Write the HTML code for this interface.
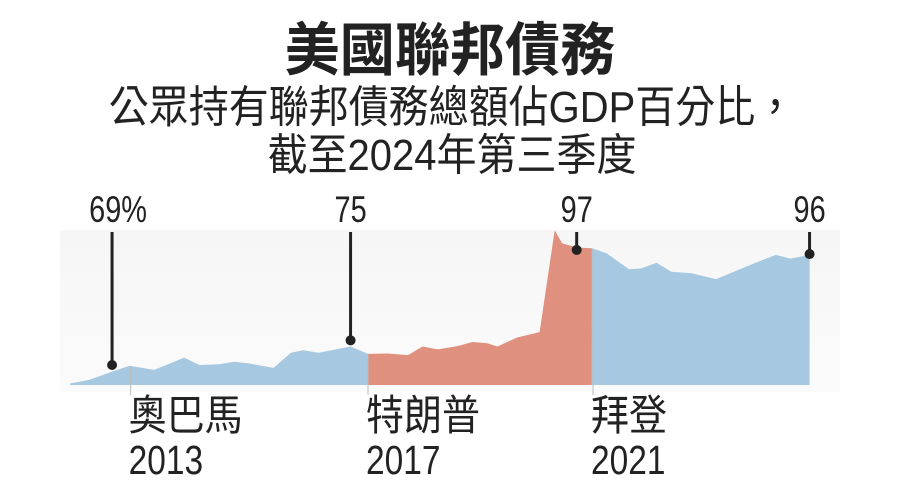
<!DOCTYPE html>
<html><head><meta charset="utf-8">
<style>
html,body{margin:0;padding:0;background:#fff;}
body{width:907px;height:496px;overflow:hidden;position:relative;}
svg{position:absolute;left:0;top:0;}
.cjk{font-family:"Liberation Sans","Noto Sans CJK TC",sans-serif;}
.num{font-family:"Liberation Sans Narrow","Liberation Sans","Noto Sans CJK TC",sans-serif;}
</style></head>
<body>
<svg id="chart" width="907" height="496" viewBox="0 0 907 496">
  <defs>
    <linearGradient id="bg" x1="0" y1="0" x2="0" y2="1">
      <stop offset="0" stop-color="#f6f6f6"/><stop offset="1" stop-color="#fbfbfb"/>
    </linearGradient>
  </defs>
  <rect x="60" y="230" width="780" height="162" fill="url(#bg)"/>
  <text transform="translate(450,70) scale(1.06,1.1)" text-anchor="middle" class="cjk" font-size="52" font-weight="bold" fill="#222">美國聯邦債務</text>
  <text transform="translate(452,122) scale(1,1.1)" text-anchor="middle" class="cjk" font-size="40" fill="#222">公眾持有聯邦債務總額佔GDP百分比，</text>
  <text transform="translate(452,170) scale(1,1.1)" text-anchor="middle" class="cjk" font-size="40" fill="#222">截至2024年第三季度</text>
  <g id="areas"></g>
  <g id="marks"></g>
</svg>
<script>
const years = [2011.70,2012.05,2012.45,2012.76,2013.20,2013.73,2014.00,2014.35,2014.62,2014.88,2015.32,2015.63,2015.85,2016.12,2016.69,2017.00,2017.36,2017.71,2017.97,2018.24,2018.59,2018.86,2019.12,2019.30,2019.65,2020.05,2020.32,2020.45,2020.71,2020.98,2021.24,2021.64,2021.86,2022.13,2022.39,2022.75,2023.19,2023.54,2023.89,2024.25,2024.51,2024.85];
const values = [64.5,65.4,67.4,68.8,67.8,70.8,69.0,69.2,69.8,69.4,68.3,72.0,72.6,72.0,73.5,71.7,71.8,71.4,73.5,72.8,73.6,74.6,74.3,73.5,75.7,77.0,101.8,98.6,97.6,97.4,96.2,92.3,92.5,93.9,91.7,91.3,89.9,91.9,93.9,95.8,94.9,95.8];
const termStarts = [2011.70,2017.00,2020.98];
const termEnds = [2017.00,2020.98,2024.85];
const termColors = ['#a6c8e0','#e0907e','#a6c8e0'];
const termNames = ['奧巴馬','特朗普','拜登'];
const termYears = ['2013','2017','2021'];
const termTickYears = [2012.78,2017.0,2021.0];
const calloutYears = [2012.45,2016.69,2020.71,2024.85];
const calloutValues = [69,75,97,96];
const calloutLabels = ['69%','75','97','96'];

const xS = y => 368 + (y - 2017) * 56.25;
const yS = v => 365 - (v - 69) * 4.11;
const baseY = 385;
const NS = 'http://www.w3.org/2000/svg';
const areas = document.getElementById('areas');
const marks = document.getElementById('marks');

function valAt(t){
  for(let i=0;i<years.length-1;i++){
    if(t>=years[i]&&t<=years[i+1]){const f=(t-years[i])/(years[i+1]-years[i]||1);return values[i]+f*(values[i+1]-values[i]);}
  }
  return values[values.length-1];
}
termStarts.forEach((s,k)=>{
  const e=termEnds[k];
  let pts=[[xS(s),yS(valAt(s))]];
  years.forEach((y,i)=>{if(y>s&&y<e)pts.push([xS(y),yS(values[i])]);});
  pts.push([xS(e),yS(valAt(e))]);
  let d='M'+xS(s)+','+baseY+' '+pts.map(p=>'L'+p[0].toFixed(1)+','+p[1].toFixed(1)).join(' ')+' L'+xS(e)+','+baseY+' Z';
  const p=document.createElementNS(NS,'path');
  p.setAttribute('d',d);p.setAttribute('fill',termColors[k]);
  
  
  areas.appendChild(p);
  const tx=xS(termTickYears[k]);
  const tl=document.createElementNS(NS,'line');
  tl.setAttribute('x1',tx);tl.setAttribute('x2',tx);tl.setAttribute('y1',yS(valAt(termTickYears[k])));tl.setAttribute('y2',395);
  tl.setAttribute('stroke','#bbb');tl.setAttribute('stroke-width','1');
  
  
  marks.appendChild(tl);
  const n=document.createElementNS(NS,'text');
  n.setAttribute('transform','translate('+(tx-2)+',430) scale(1,1.1)');
  n.setAttribute('font-size','38');n.setAttribute('class','cjk');n.setAttribute('fill','#222');
  n.textContent=termNames[k];
  
  
  marks.appendChild(n);
  const yr=document.createElementNS(NS,'text');
  yr.setAttribute('transform','translate('+(tx-2)+',474) scale(0.93,1.12)');
  yr.setAttribute('font-size','36');yr.setAttribute('class','num');yr.setAttribute('fill','#222');
  yr.textContent=termYears[k];
  
  
  marks.appendChild(yr);
});
calloutYears.forEach((y,i)=>{
  const x=xS(y), py=yS(calloutValues[i]);
  const l=document.createElementNS(NS,'line');
  l.setAttribute('x1',x);l.setAttribute('x2',x);l.setAttribute('y1',232);l.setAttribute('y2',py);
  l.setAttribute('stroke','#222');l.setAttribute('stroke-width','3');
  
  
  marks.appendChild(l);
  const c=document.createElementNS(NS,'circle');
  c.setAttribute('cx',x);c.setAttribute('cy',py);c.setAttribute('r','5');c.setAttribute('fill','#222');
  
  
  marks.appendChild(c);
  const t=document.createElementNS(NS,'text');
  t.setAttribute('transform','translate('+(x+(i===0?6:0))+',222) scale(0.85,1.1)');
  t.setAttribute('text-anchor','middle');
  t.setAttribute('font-size','34');t.setAttribute('class','num');t.setAttribute('fill','#222');
  t.textContent=calloutLabels[i];
  
  
  marks.appendChild(t);
});
</script>
</body></html>
